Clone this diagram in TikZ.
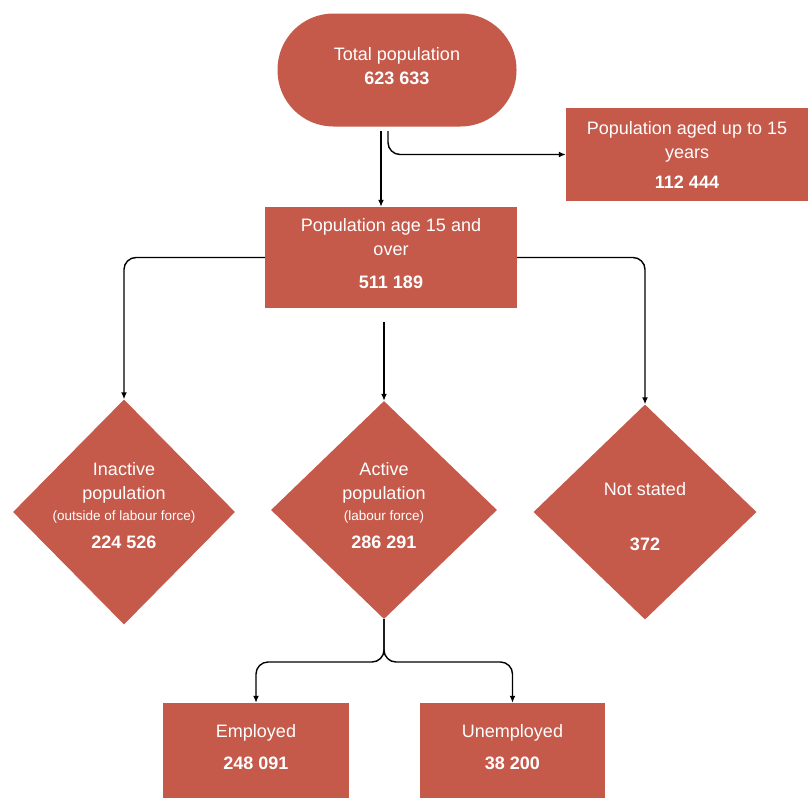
\documentclass[tikz,border=0pt]{standalone}
\usepackage{fontspec}
\setmainfont{Liberation Sans}
\usetikzlibrary{shapes.geometric,arrows.meta}
\definecolor{brick}{HTML}{C5594A}
\newcommand{\smalltxt}[1]{{\fontsize{13.5}{15}\selectfont #1}}
\begin{document}
\begin{tikzpicture}[x=1pt,y=-1pt]
\tikzstyle{every node}+=[inner sep=0pt, text=white, font=\fontsize{18}{24}\selectfont, align=center]
\tikzstyle{box}=[fill=brick, rectangle]
\tikzstyle{dia}=[fill=brick, diamond]
\tikzstyle{link}=[black, line width=1.4pt, -{Latex[length=7pt,width=6pt]}, rounded corners=12pt]
\useasboundingbox (0,0) rectangle (808,798);
% boxes
\node [box, rounded corners=56pt, minimum width=239pt, minimum height=113pt,
  label={[yshift=4pt]center:Total population\\ \textbf{623 633}}] (total) at (397,70) {};
\node [box, minimum width=242pt, minimum height=93pt] (young) at (687,154.5) {Population aged up to 15\\ years\\[6pt] \textbf{112 444}};
\node [box, minimum width=252pt, minimum height=101pt,
  label={[yshift=4pt]center:Population age 15 and\\ over\\[9pt] \textbf{511 189}}] (adult) at (391,257.5) {};
\node [box, minimum width=186pt, minimum height=95pt,
  label={[yshift=3pt]center:Employed\\[8pt] \textbf{248 091}}] (emp) at (256,750.5) {};
\node [box, minimum width=185pt, minimum height=95pt,
  label={[yshift=3pt]center:Unemployed\\[8pt] \textbf{38 200}}] (unemp) at (512.5,750.5) {};
% diamonds
\node [dia, minimum width=222pt, minimum height=225pt] (inact) at (124,512) {};
\node [dia, minimum width=226pt, minimum height=218pt] (active) at (384,510) {};
\node [dia, minimum width=223pt, minimum height=215pt] (notst) at (645,512) {};
\node (inact-t) at (124,506) {Inactive\\ population\\[-3pt] \smalltxt{(outside of labour force)}\\[4pt] \textbf{224 526}};
\node (active-t) at (384,506) {Active\\ population\\[-3pt] \smalltxt{(labour force)}\\[4pt] \textbf{286 291}};
\node (notst-t) at (645,517) {Not stated\\[31pt] \textbf{372}};
% connectors
\coordinate (t1) at (381,131);
\coordinate (t2) at (388,131);
\coordinate (a1) at (384,322);
\coordinate (split) at (384,662);
\draw [link] (t1) -- (t1 |- adult.north);
\draw [link] (t2) |- (young.west);
\draw [link] (adult.west) -| (inact.north);
\draw [link] (adult.east) -| (notst.north);
\draw [link] (a1) -- (active.north);
\draw [link] (active.south) -- (split) -| (emp.north);
\draw [link] (active.south) -- (split) -| (unemp.north);
\end{tikzpicture}
\end{document}
